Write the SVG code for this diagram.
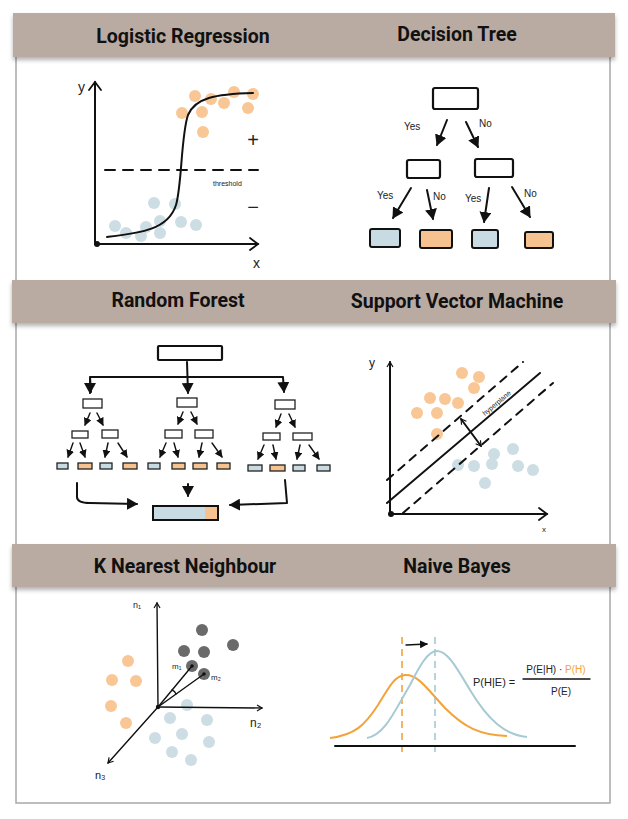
<svg xmlns="http://www.w3.org/2000/svg" width="628" height="819" viewBox="0 0 628 819">
<style>
.hdr{fill:#b9aba2}
.ht{font-family:Roboto,"Liberation Sans",sans-serif;font-weight:bold;font-size:19.5px;fill:#111;text-anchor:middle}
.ink{fill:none;stroke:#111;stroke-width:2;stroke-linecap:round;stroke-linejoin:round}
.thin{fill:none;stroke:#111;stroke-width:1.4;stroke-linecap:round}
.box{fill:none;stroke:#111;stroke-width:2.2;stroke-linejoin:round}
.sbox{fill:#fff;stroke:#222;stroke-width:1.3}
.hand{font-family:"Liberation Sans",sans-serif;fill:#222}
.od{fill:#f9c795}
.bd{fill:#cddde4}
.gd{fill:#6a6a6a}
.lb{fill:#c9dbe2;stroke:#111;stroke-width:2}
.lo{fill:#f6c28f;stroke:#111;stroke-width:2}
.slb{fill:#c9dbe2;stroke:#222;stroke-width:1.3}
.slo{fill:#f6c28f;stroke:#222;stroke-width:1.3}
</style>
<defs>
<marker id="open" markerUnits="userSpaceOnUse" markerWidth="14" markerHeight="14" refX="10" refY="7" orient="auto">
<path d="M2,1 L10,7 L2,13" fill="none" stroke="#111" stroke-width="1.8" stroke-linecap="round"/>
</marker>
<marker id="fill" markerUnits="userSpaceOnUse" markerWidth="12" markerHeight="12" refX="10" refY="6" orient="auto">
<path d="M0,0 L11,6 L0,12 z" fill="#111"/>
</marker>
<marker id="sfill" markerUnits="userSpaceOnUse" markerWidth="8" markerHeight="8" refX="7" refY="4" orient="auto">
<path d="M0,0 L8,4 L0,8 z" fill="#111"/>
</marker>
<marker id="sopen" markerUnits="userSpaceOnUse" markerWidth="8" markerHeight="8" refX="6" refY="4" orient="auto-start-reverse">
<path d="M1,1 L6,4 L1,7" fill="none" stroke="#111" stroke-width="1.2"/>
</marker>
<filter id="sh" x="-5%" y="-20%" width="110%" height="160%">
<feDropShadow dx="0" dy="3" stdDeviation="2" flood-color="#000" flood-opacity="0.3"/>
</filter>
</defs>
<rect width="628" height="819" fill="#fff"/>
<rect x="16" y="40" width="594" height="763" fill="#fff" stroke="#a8a8a8" stroke-width="1.5"/>

<g id="headers">
<rect class="hdr" x="13" y="13" width="602" height="44" filter="url(#sh)"/>
<text class="ht" x="183" y="43">Logistic Regression</text>
<text class="ht" x="457" y="41">Decision Tree</text>
<rect class="hdr" x="12" y="280" width="604" height="43" filter="url(#sh)"/>
<text class="ht" x="178" y="307">Random Forest</text>
<text class="ht" x="457" y="308">Support Vector Machine</text>
<rect class="hdr" x="12" y="544" width="604" height="43" filter="url(#sh)"/>
<text class="ht" x="185" y="573">K Nearest Neighbour</text>
<text class="ht" x="457" y="573">Naive Bayes</text>
</g>

<g id="logistic-regression">
<g id="lr-dots">
<circle class="od" cx="195" cy="96" r="6"/><circle class="od" cx="211" cy="99" r="6"/><circle class="od" cx="234" cy="92" r="6"/><circle class="od" cx="253" cy="94" r="6"/><circle class="od" cx="224" cy="103" r="6"/><circle class="od" cx="248" cy="108" r="6"/><circle class="od" cx="182" cy="113" r="6"/><circle class="od" cx="202" cy="112" r="6"/><circle class="od" cx="203" cy="132" r="6"/>
<circle class="bd" cx="154" cy="203" r="6"/><circle class="bd" cx="175" cy="204" r="6"/><circle class="bd" cx="115" cy="226" r="6"/><circle class="bd" cx="126" cy="233" r="6"/><circle class="bd" cx="146" cy="227" r="6"/><circle class="bd" cx="141" cy="236" r="6"/><circle class="bd" cx="160" cy="233" r="6"/><circle class="bd" cx="160" cy="221" r="6"/><circle class="bd" cx="181" cy="222" r="6"/><circle class="bd" cx="196" cy="225" r="6"/>
</g>
<path class="ink" d="M95,244 L95,82" marker-end="url(#open)"/>
<path class="ink" d="M95,244 L258,244" marker-end="url(#open)"/>
<circle cx="97" cy="244" r="3" fill="#111"/>
<path class="ink" d="M105,170 L258,170" stroke-dasharray="10 8" stroke-width="1.6"/>
<path class="ink" d="M107,237 C140,233 168,230 176,205 C182,185 181,135 188,115 C195,98 215,94 253,93" stroke-width="1.8"/>
<text class="hand" x="78" y="92" font-size="14">y</text>
<text class="hand" x="253" y="268" font-size="14">x</text>
<text class="hand" x="213" y="186" font-size="7">threshold</text>
<text class="hand" x="253" y="147" font-size="20" text-anchor="middle">+</text>
<text class="hand" x="253" y="214" font-size="20" text-anchor="middle">−</text>
</g>

<g id="decision-tree">
<rect class="box" x="433" y="88" width="45" height="21" rx="2"/>
<rect class="box" x="407" y="160" width="33" height="18" rx="2"/>
<rect class="box" x="475" y="159" width="38" height="18" rx="2"/>
<rect class="lb" x="370" y="229" width="30" height="18" rx="2"/>
<rect class="lo" x="420" y="230" width="32" height="18" rx="2"/>
<rect class="lb" x="472" y="230" width="26" height="18" rx="2"/>
<rect class="lo" x="525" y="232" width="28" height="16" rx="2"/>
<g id="dt-connectors">
<path class="ink" d="M447,120 L437,145" stroke-width="2.4" marker-end="url(#fill)"/>
<path class="ink" d="M466,122 L478,147" stroke-width="2.4" marker-end="url(#fill)"/>
<path class="ink" d="M411,188 L393,218" stroke-width="2.4" marker-end="url(#fill)"/>
<path class="ink" d="M427,190 L433,219" stroke-width="2.4" marker-end="url(#fill)"/>
<path class="ink" d="M489,188 L484,222" stroke-width="2.4" marker-end="url(#fill)"/>
<path class="ink" d="M512,187 L530,217" stroke-width="2.4" marker-end="url(#fill)"/>
</g>
<text class="hand" x="404" y="130" font-size="10">Yes</text>
<text class="hand" x="479" y="127" font-size="10">No</text>
<text class="hand" x="377" y="199" font-size="10">Yes</text>
<text class="hand" x="433" y="200" font-size="10">No</text>
<text class="hand" x="465" y="202" font-size="10">Yes</text>
<text class="hand" x="524" y="197" font-size="10">No</text>
</g>

<g id="random-forest">
<rect class="box" x="158" y="346" width="64" height="14" rx="1" stroke-width="2"/>
<g id="rf-connectors">
<path class="ink" d="M187,362 L188,393" marker-end="url(#fill)"/>
<path class="ink" d="M91,392 L90,377 L283,377 L284,392" marker-end="url(#fill)"/>
<path class="ink" d="M90,378 L90,393" marker-end="url(#fill)"/>
<path class="thin" d="M90,413 L85,425" marker-end="url(#sfill)"/><path class="thin" d="M97,413 L103,425" marker-end="url(#sfill)"/>
<path class="thin" d="M73,443 L68,457" marker-end="url(#sfill)"/><path class="thin" d="M80,443 L85,457" marker-end="url(#sfill)"/><path class="thin" d="M108,443 L105,457" marker-end="url(#sfill)"/><path class="thin" d="M118,443 L127,457" marker-end="url(#sfill)"/>
<path class="thin" d="M183,412 L178,424" marker-end="url(#sfill)"/><path class="thin" d="M191,412 L197,424" marker-end="url(#sfill)"/>
<path class="thin" d="M166,443 L160,457" marker-end="url(#sfill)"/><path class="thin" d="M174,443 L178,457" marker-end="url(#sfill)"/><path class="thin" d="M202,443 L199,457" marker-end="url(#sfill)"/><path class="thin" d="M212,443 L222,457" marker-end="url(#sfill)"/>
<path class="thin" d="M281,414 L276,427" marker-end="url(#sfill)"/><path class="thin" d="M289,414 L295,427" marker-end="url(#sfill)"/>
<path class="thin" d="M264,445 L258,459" marker-end="url(#sfill)"/><path class="thin" d="M273,445 L276,459" marker-end="url(#sfill)"/><path class="thin" d="M300,445 L297,459" marker-end="url(#sfill)"/><path class="thin" d="M309,445 L319,459" marker-end="url(#sfill)"/>
<path class="ink" d="M77,483 L77,497 Q77,503 90,503 L137,504" marker-end="url(#fill)"/>
<path class="ink" d="M188,484 L188,496" marker-end="url(#fill)"/>
<path class="ink" d="M285,480 L287,503 L230,505" marker-end="url(#fill)"/>
</g>
<rect class="sbox" x="83" y="399" width="19" height="9"/>
<rect class="sbox" x="72" y="431" width="16" height="7"/><rect class="sbox" x="102" y="430" width="16" height="8"/>
<rect class="slb" x="57" y="463" width="11" height="6"/><rect class="slo" x="78" y="463" width="14" height="6"/><rect class="slb" x="100" y="463" width="12" height="6"/><rect class="slo" x="123" y="463" width="14" height="6"/>
<rect class="sbox" x="177" y="398" width="20" height="9"/>
<rect class="sbox" x="165" y="430" width="17" height="8"/><rect class="sbox" x="195" y="430" width="18" height="8"/>
<rect class="slb" x="148" y="463" width="12" height="6"/><rect class="slo" x="172" y="463" width="13" height="6"/><rect class="slo" x="193" y="463" width="14" height="6"/><rect class="slo" x="217" y="463" width="13" height="6"/>
<rect class="sbox" x="275" y="400" width="20" height="9"/>
<rect class="sbox" x="263" y="433" width="17" height="7"/><rect class="sbox" x="293" y="433" width="19" height="7"/>
<rect class="slb" x="248" y="465" width="14" height="6"/><rect class="slo" x="270" y="465" width="15" height="6"/><rect class="slb" x="293" y="465" width="12" height="6"/><rect class="slb" x="317" y="465" width="13" height="6"/>
<rect x="153" y="506" width="52" height="14" fill="#c9dbe2"/>
<rect x="205" y="506" width="13" height="14" fill="#f6c28f"/>
<rect x="153" y="506" width="65" height="14" fill="none" stroke="#111" stroke-width="2"/>
</g>

<g id="support-vector-machine">
<g id="svm-dots">
<circle class="od" cx="462" cy="373" r="6"/><circle class="od" cx="479" cy="377" r="6"/><circle class="od" cx="474" cy="388" r="6"/><circle class="od" cx="430" cy="398" r="6"/><circle class="od" cx="445" cy="399" r="6"/><circle class="od" cx="458" cy="403" r="6"/><circle class="od" cx="417" cy="413" r="6"/><circle class="od" cx="437" cy="413" r="6"/><circle class="od" cx="437" cy="434" r="6"/>
<circle class="bd" cx="494" cy="454" r="6"/><circle class="bd" cx="513" cy="449" r="6"/><circle class="bd" cx="458" cy="465" r="6"/><circle class="bd" cx="474" cy="466" r="6"/><circle class="bd" cx="492" cy="464" r="6"/><circle class="bd" cx="518" cy="466" r="6"/><circle class="bd" cx="533" cy="470" r="6"/><circle class="bd" cx="485" cy="483" r="6"/>
</g>
<path class="ink" d="M390,515 L390,362" marker-end="url(#sopen)"/>
<path class="ink" d="M390,514 L547,514" marker-end="url(#open)"/>
<circle cx="391" cy="514" r="3" fill="#111"/>
<path class="ink" d="M387,503 L540,373" stroke-width="1.8"/>
<path class="ink" d="M387,480 L523,362" stroke-width="1.8" stroke-dasharray="8 7"/>
<path class="ink" d="M403,513 L553,383" stroke-width="1.8" stroke-dasharray="8 7"/>
<path class="ink" d="M461,419 L481,446" stroke-width="1.6" marker-start="url(#sopen)" marker-end="url(#sopen)"/>
<text class="hand" x="0" y="0" font-size="7" transform="translate(485,416) rotate(-40)">hyperplane</text>
<text class="hand" x="369" y="367" font-size="12">y</text>
<text class="hand" x="542" y="532" font-size="8">x</text>
</g>

<g id="k-nearest-neighbour">
<g id="knn-dots">
<circle class="gd" cx="202" cy="630" r="6"/><circle class="gd" cx="233" cy="645" r="6"/><circle class="gd" cx="184" cy="651" r="6"/><circle class="gd" cx="204" cy="652" r="6"/><circle class="gd" cx="192" cy="666" r="6"/><circle class="gd" cx="204" cy="674" r="6"/>
<circle class="od" cx="128" cy="661" r="6"/><circle class="od" cx="112" cy="680" r="6"/><circle class="od" cx="136" cy="681" r="6"/><circle class="od" cx="111" cy="706" r="6"/><circle class="od" cx="126" cy="723" r="6"/>
<circle class="bd" cx="187" cy="705" r="6"/><circle class="bd" cx="170" cy="718" r="6"/><circle class="bd" cx="207" cy="720" r="6"/><circle class="bd" cx="155" cy="738" r="6"/><circle class="bd" cx="182" cy="734" r="6"/><circle class="bd" cx="209" cy="742" r="6"/><circle class="bd" cx="172" cy="752" r="6"/><circle class="bd" cx="191" cy="760" r="6"/>
</g>
<path class="thin" d="M158,707 L157,603" marker-end="url(#sopen)"/>
<path class="thin" d="M158,707 L262,708" marker-end="url(#sopen)"/>
<path class="thin" d="M158,707 L108,763" marker-end="url(#sopen)"/>
<path class="thin" d="M158,707 L192,666"/>
<path class="thin" d="M158,707 L204,674"/>
<path class="thin" d="M172,690 Q175,691 176,694"/>
<circle cx="158" cy="707" r="2.2" fill="#111"/>
<circle cx="192" cy="666" r="1.8" fill="#111"/>
<circle cx="204" cy="674" r="1.8" fill="#111"/>
<text class="hand" x="133" y="608" font-size="9">n₁</text>
<text class="hand" x="250" y="727" font-size="12">n₂</text>
<text class="hand" x="95" y="779" font-size="11">n₃</text>
<text class="hand" x="172" y="669" font-size="8">m₁</text>
<text class="hand" x="211" y="680" font-size="8">m₂</text>
</g>

<g id="naive-bayes">
<path d="M402,637 L402,757" stroke="#f2a33a" stroke-width="1.6" stroke-dasharray="7 5" fill="none"/>
<path d="M435,637 L435,757" stroke="#a6c9d3" stroke-width="1.6" stroke-dasharray="7 5" fill="none"/>
<path d="M330,738 C355,735 365,725 378,705 C390,685 395,676 405,675 C418,674 428,690 445,708 C465,728 480,735 507,736" fill="none" stroke="#f2a33a" stroke-width="2"/>
<path d="M367,738 C385,735 395,710 410,685 C420,665 428,651 437,651 C448,651 458,670 470,690 C488,720 505,735 527,737" fill="none" stroke="#a6c9d3" stroke-width="2"/>
<path class="ink" d="M335,746 L575,746" stroke-width="2.4"/>
<path class="thin" d="M406,645 L427,644" marker-end="url(#sfill)"/>
<text class="hand" x="473" y="686" font-size="11">P(H|E) =</text>
<text class="hand" x="556" y="673" font-size="10" text-anchor="middle">P(E|H) · <tspan fill="#f2a33a">P(H)</tspan></text>
<path class="thin" d="M523,679 L590,679"/>
<text class="hand" x="561" y="695" font-size="10" text-anchor="middle">P(E)</text>
</g>
</svg>
